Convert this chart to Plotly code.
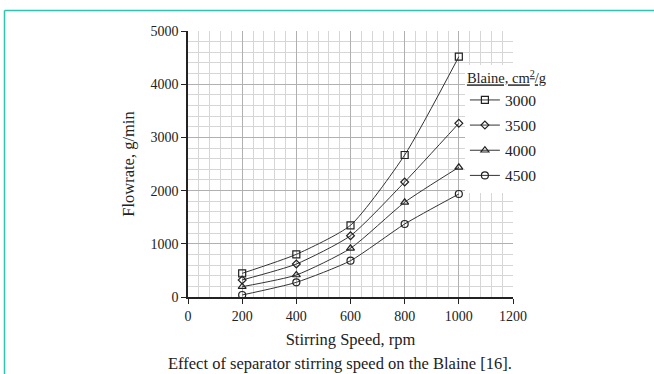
import plotly.graph_objects as go

speed = [200, 400, 600, 800, 1000]
blaine_labels = ["3000", "3500", "4000", "4500"]
flow_3000 = [445, 802, 1348, 2669, 4517]
flow_3500 = [320, 620, 1152, 2162, 3265]
flow_4000 = [194, 414, 915, 1780, 2438]
flow_4500 = [38, 276, 682, 1372, 1936]
series = [flow_3000, flow_3500, flow_4000, flow_4500]
symbols = ["square-open", "diamond-open", "triangle-up-open", "circle-open"]
msizes = [7, 6, 7, 7]

FONT = "Liberation Serif, Times New Roman, serif"

fig = go.Figure()
for lab, ys, sym, ms in zip(blaine_labels, series, symbols, msizes):
    fig.add_trace(go.Scatter(
        x=speed, y=ys, name=lab, mode="lines+markers", legendgroup=lab,
        line=dict(color="#333333", width=1, shape="spline", smoothing=0.6),
        marker=dict(symbol=sym, size=ms, color="#222222", line=dict(width=1.2, color="#222222")),
    ))

fig.update_layout(
    width=654, height=374,
    margin=dict(l=188, r=141, t=31, b=77),
    paper_bgcolor="white", plot_bgcolor="white",
    font=dict(family=FONT, color="#222222", size=14),
    legend=dict(
        title=dict(text="<u>Blaine, cm<sup>2</sup>/g</u>", font=dict(size=14.5, family=FONT)),
        x=0.852, xanchor="left", y=0.874, yanchor="top",
        bgcolor="white", font=dict(size=15.5, family=FONT),
        tracegroupgap=2, itemwidth=30,
    ),
    showlegend=True,
)

fig.update_xaxes(
    range=[0, 1200], dtick=200, tick0=0,
    showgrid=True, gridcolor="#b0b0b0", gridwidth=1,
    minor=dict(dtick=40, showgrid=True, gridcolor="#d6d6d6", gridwidth=1),
    showline=True, linecolor="#222222", linewidth=1.5,
    ticks="outside", ticklen=5, tickcolor="#222222",
    zeroline=False,
    title=dict(text="Stirring Speed, rpm", font=dict(size=16.5, family=FONT), standoff=11),
    tickfont=dict(size=14, family=FONT),
)
fig.update_yaxes(
    range=[0, 5000], dtick=1000, tick0=0,
    showgrid=True, gridcolor="#b0b0b0", gridwidth=1,
    minor=dict(dtick=200, showgrid=True, gridcolor="#d6d6d6", gridwidth=1),
    showline=True, linecolor="#222222", linewidth=1.5,
    ticks="outside", ticklen=5, tickcolor="#222222",
    zeroline=False,
    title=dict(text="Flowrate, g/min", font=dict(size=16.5, family=FONT), standoff=12),
    tickfont=dict(size=14, family=FONT),
)

# teal frame (top and left edges)
teal = "#2ec4ae"
fig.add_shape(type="line", xref="paper", yref="paper",
              x0=(4.5 - 188) / 325, x1=(660 - 188) / 325,
              y0=(297 - 10.5) / 266, y1=(297 - 10.5) / 266,
              line=dict(color=teal, width=1.5))
fig.add_shape(type="line", xref="paper", yref="paper",
              x0=(4.5 - 188) / 325, x1=(4.5 - 188) / 325,
              y0=(297 - 10.5) / 266, y1=(297 - 380) / 266,
              line=dict(color=teal, width=1.5))

fig.add_annotation(
    text="Effect of separator stirring speed on the Blaine [16].",
    xref="paper", yref="paper", x=(340 - 188) / 325, y=(297 - 363) / 266,
    xanchor="center", yanchor="middle", showarrow=False,
    font=dict(size=16.5, family=FONT, color="#222222"),
)

fig.write_html("out.html")
